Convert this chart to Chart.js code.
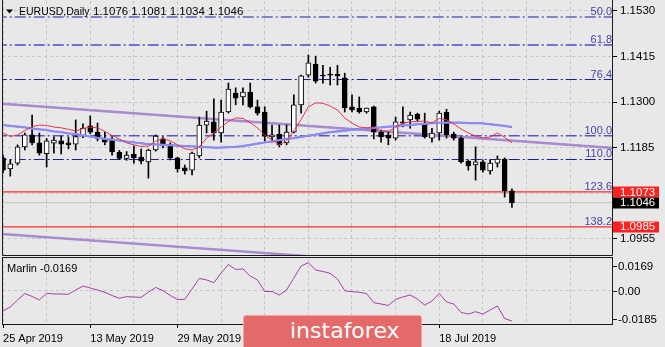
<!DOCTYPE html>
<html>
<head>
<meta charset="utf-8">
<script src="https://cdn.jsdelivr.net/npm/chart.js@4.4.1/dist/chart.umd.min.js"></script>
<style>
  body { margin: 0; background: #e8e8e8; }
  #wrap { position: relative; width: 665px; height: 347px; overflow: hidden; background: #e8e8e8; }
  #priceCanvas { position: absolute; left: 0; top: 0; }
  #oscCanvas { position: absolute; left: 0; top: 257px; }
  #logo {
    position: absolute; left: 243px; top: 315px; width: 179px; height: 36px;
    box-sizing: border-box; padding-left: 46px;
    background: #e46a6a; border: 1px solid #f1a4a4; border-radius: 3px;
    color: #fff; font: 22px "DejaVu Sans", sans-serif; line-height: 30px;
  }
</style>
</head>
<body>
<div id="wrap">
  <canvas id="priceCanvas" width="665" height="257"></canvas>
  <canvas id="oscCanvas" width="665" height="90"></canvas>
  <div id="logo">instaforex</div>
</div>
<script>
// EURUSD daily, bar 0 = 25 Apr 2019 ... bar 70 = 1 Aug 2019
const opens = [
  1.1159, 1.1131, 1.1146, 1.1187, 1.1217, 1.1197, 1.1170, 1.1196, 1.1202, 1.1197,
  1.1194, 1.1215, 1.1240, 1.1224, 1.1206, 1.1204, 1.1174, 1.1158, 1.1168, 1.1161,
  1.1149, 1.1179, 1.1207, 1.1192, 1.1159, 1.1134, 1.1128, 1.1164, 1.1242, 1.1250,
  1.1222, 1.1275, 1.1323, 1.1313, 1.1325, 1.1288, 1.1275, 1.1212, 1.1219, 1.1197,
  1.1224, 1.1293, 1.1368, 1.1396, 1.1368, 1.1371, 1.1371, 1.1361, 1.1288, 1.1285,
  1.1275, 1.1288, 1.1224, 1.1217, 1.1209, 1.1250, 1.1255, 1.1270, 1.1247, 1.1209,
  1.1222, 1.1275, 1.1219, 1.1209, 1.1151, 1.1141, 1.1149, 1.1126, 1.1146, 1.1156,
  1.1076
];
const highs = [
  1.1166, 1.1154, 1.1192, 1.1222, 1.1267, 1.1222, 1.1208, 1.1212, 1.1214, 1.1212,
  1.1255, 1.1245, 1.1265, 1.1247, 1.1224, 1.1212, 1.1178, 1.1175, 1.1189, 1.1181,
  1.1181, 1.1217, 1.1212, 1.1197, 1.1161, 1.1141, 1.1174, 1.1262, 1.1277, 1.1308,
  1.1305, 1.1348, 1.1336, 1.1336, 1.1348, 1.1305, 1.1288, 1.1242, 1.1242, 1.1242,
  1.1318, 1.1368, 1.1419, 1.1416, 1.1393, 1.1388, 1.1393, 1.1373, 1.1318, 1.1313,
  1.1285, 1.1290, 1.1229, 1.1224, 1.1262, 1.1288, 1.1275, 1.1272, 1.1272, 1.1234,
  1.1277, 1.1282, 1.1224, 1.1212, 1.1154, 1.1187, 1.1154, 1.1154, 1.1164, 1.1159,
  1.1081
];
const lows = [
  1.1121, 1.1113, 1.1141, 1.1179, 1.1192, 1.1166, 1.1136, 1.1171, 1.1169, 1.1182,
  1.1179, 1.1210, 1.1220, 1.1202, 1.1192, 1.1166, 1.1155, 1.1153, 1.1146, 1.1144,
  1.1108, 1.1176, 1.1184, 1.1154, 1.1123, 1.1118, 1.1116, 1.1159, 1.1222, 1.1204,
  1.1199, 1.1272, 1.1293, 1.1293, 1.1285, 1.1267, 1.1202, 1.1199, 1.1187, 1.1192,
  1.1222, 1.1272, 1.1363, 1.1348, 1.1348, 1.1343, 1.1343, 1.1275, 1.1275, 1.1272,
  1.1272, 1.1207, 1.1199, 1.1192, 1.1204, 1.1237, 1.1234, 1.1252, 1.1209, 1.1199,
  1.1204, 1.1209, 1.1204, 1.1146, 1.1128, 1.1103, 1.1123, 1.1118, 1.1136, 1.1060,
  1.1034
];
const closes = [
  1.1128, 1.1144, 1.1187, 1.1217, 1.1197, 1.1171, 1.1202, 1.1204, 1.1194, 1.1192,
  1.1213, 1.1234, 1.1224, 1.1208, 1.1199, 1.1174, 1.1158, 1.1166, 1.1159, 1.1151,
  1.1179, 1.1214, 1.1189, 1.1159, 1.1131, 1.1126, 1.1171, 1.1242, 1.1252, 1.1222,
  1.1275, 1.1333, 1.1310, 1.1325, 1.1288, 1.1272, 1.1214, 1.1217, 1.1192, 1.1224,
  1.1293, 1.1366, 1.1399, 1.1353, 1.1366, 1.1368, 1.1366, 1.1285, 1.1280, 1.1275,
  1.1285, 1.1224, 1.1212, 1.1209, 1.1250, 1.1247, 1.1267, 1.1257, 1.1212, 1.1222,
  1.1272, 1.1217, 1.1209, 1.1149, 1.1139, 1.1149, 1.1128, 1.1146, 1.1156, 1.1076,
  1.1046
];
// fast (red) and slow (blue) moving averages
const maFast = [
  1.1222, 1.1213, 1.1217, 1.1228, 1.1238, 1.1242, 1.1241, 1.1237, 1.1235, 1.1231,
  1.1227, 1.1233, 1.1237, 1.1235, 1.1226, 1.1216, 1.1207, 1.1197, 1.1192, 1.1188,
  1.1189, 1.1201, 1.1208, 1.1202, 1.1192, 1.1182, 1.1179, 1.1187, 1.1209, 1.1222,
  1.1237, 1.1251, 1.1260, 1.1259, 1.1248, 1.1235, 1.1216, 1.1204, 1.1192, 1.1202,
  1.1227, 1.1256, 1.1288, 1.1298, 1.1297, 1.1290, 1.1280, 1.1260, 1.1247, 1.1237,
  1.1235, 1.1235, 1.1227, 1.1226, 1.1236, 1.1247, 1.1250, 1.1251, 1.1252, 1.1247,
  1.1259, 1.1255, 1.1245, 1.1232, 1.1222, 1.1214, 1.1209, 1.1212, 1.1222, 1.1211,
  1.1197
];
const maSlow = [
  1.1242, 1.1240, 1.1238, 1.1236, 1.1233, 1.1231, 1.1229, 1.1226, 1.1224, 1.1221,
  1.1219, 1.1216, 1.1213, 1.1210, 1.1207, 1.1205, 1.1203, 1.1200, 1.1198, 1.1196,
  1.1194, 1.1193, 1.1192, 1.1191, 1.1190, 1.1189, 1.1188, 1.1187, 1.1186, 1.1185,
  1.1185, 1.1186, 1.1187, 1.1189, 1.1192, 1.1195, 1.1198, 1.1201, 1.1204, 1.1207,
  1.1209, 1.1212, 1.1215, 1.1218, 1.1221, 1.1224, 1.1226, 1.1228, 1.1230, 1.1232,
  1.1233, 1.1235, 1.1236, 1.1238, 1.1239, 1.1241, 1.1242, 1.1244, 1.1245, 1.1247,
  1.1248, 1.1248, 1.1248, 1.1248, 1.1247, 1.1247, 1.1246, 1.1244, 1.1242, 1.1240,
  1.1237
];
const marlin = [
  -0.0114, -0.0092, -0.0054, -0.0019, -0.0035, -0.0054, -0.0018, -0.0021, -0.0022, -0.0023,
   0.0000,  0.0022,  0.0011,  0.0000, -0.0012, -0.0030, -0.0045, -0.0036, -0.0038, -0.0040,
  -0.0011,  0.0014, -0.0003, -0.0030, -0.0051, -0.0051,  0.0006,  0.0063,  0.0055,  0.0040,
   0.0093,  0.0139,  0.0112,  0.0115,  0.0076,  0.0055, -0.0008, -0.0008, -0.0027,  0.0000,
   0.0065,  0.0131,  0.0149,  0.0109,  0.0101,  0.0091,  0.0060, -0.0004, -0.0009, -0.0012,
  -0.0019, -0.0069, -0.0076, -0.0084, -0.0051, -0.0038, -0.0027, -0.0049, -0.0082, -0.0060,
  -0.0018, -0.0065, -0.0076, -0.0122, -0.0131, -0.0118, -0.0131, -0.0109, -0.0087, -0.0155,
  -0.0169
];

const dateLabels = ['25 Apr 2019', '13 May 2019', '29 May 2019', '14 Jun 2019', '2 Jul 2019', '18 Jul 2019'];
const gridBars = [0, 6, 12, 18, 24, 30, 36, 42, 48, 54, 60, 66, 72, 78];
const priceTicks = [1.1530, 1.1415, 1.1300, 1.1185, 1.1070, 1.0955];
const fibLabels = ['50.0', '61.8', '76.4', '100.0', '110.0', '123.6', '138.2'];
const fibPrices = [1.1515, 1.1444, 1.1357, 1.1215, 1.1155, 1.1073, 1.0985];
const channelTop = [[-1, 1.1297], [84, 1.1184]];
const channelBottom = [[-1, 1.0968], [84, 1.0855]];
const marlinTicks = [0.0169, 0, -0.0185];
const symbol = 'EURUSD,Daily';
const bid = 1.1046;

const FONT = '"Liberation Sans", Arial, sans-serif';
const BG = '#e8e8e8';
const GRID = '#c4c4c4';
const X_MIN = -0.14, X_MAX = 83.9;

const pts = arr => arr.map((v, i) => ({ x: i, y: v }));
const span = (v) => [{ x: -1, y: v }, { x: 85, y: v }];
const seg = p => p.map(([x, y]) => ({ x, y }));

function hline(data, color, width, dash, order) {
  return { type: 'line', data, borderColor: color, borderWidth: width, borderDash: dash,
           pointRadius: 0, tension: 0, order };
}

// no extra room for edge labels, the frame is fixed
function noPad(s) {
  s.paddingTop = 0; s.paddingBottom = 0; s.paddingLeft = 0; s.paddingRight = 0;
}

// fib levels: navy dash-dot, 61.8 / 100 lighter, 123.6 / 138.2 solid red
const fibStyle = [
  ['#1c1cb0', 1.1, [11, 3, 2, 3]],
  ['#7272d6', 2, [11, 3, 2, 3]],
  ['#1c1cb0', 1.1, [11, 3, 2, 3]],
  ['#5858bc', 1.4, [11, 3, 2, 3]],
  ['#1c1cb0', 1.1, [11, 3, 2, 3]],
  ['#ff2b2b', 1.3, []],
  ['#ff2b2b', 1.3, []]
];

const datasets = [];
fibPrices.forEach((p, k) => {
  const [c, w, d] = fibStyle[k];
  datasets.push(hline(span(p), c, w, d, 6));
});
datasets.push(hline(span(bid), '#c2c2c2', 1, [], 6));
[channelTop, channelBottom].forEach(line => {
  datasets.push(hline(seg(line), '#a98bd0', 2.4, [], 5));
  datasets.push(hline(seg(line), '#5e1f98', 1.2, [], 5));
});
// wicks, then bodies
datasets.push({ type: 'bar', data: lows.map((l, i) => ({ x: i, y: [l, highs[i]] })),
  backgroundColor: '#000', borderWidth: 0, barThickness: 1, grouped: false, order: 4 });
datasets.push({ type: 'bar', data: opens.map((o, i) => ({ x: i, y: [o, closes[i]] })),
  backgroundColor: opens.map((o, i) => closes[i] >= o ? '#ffffff' : '#000000'),
  borderColor: '#000', borderWidth: 1, borderSkipped: false, barThickness: 5,
  grouped: false, order: 3 });
datasets.push(hline(pts(maSlow), '#8c8cf2', 2.2, [], 2));
datasets.push(hline(pts(maSlow), '#1a1aff', 1.3, [], 2));
datasets.push(hline(pts(maFast), '#e8344e', 1, [], 1));

function priceTag(ctx, a, y, value, fill) {
  const py = y.getPixelForValue(value);
  ctx.fillStyle = fill;
  ctx.fillRect(a.right, Math.round(py) - 5.5, 46, 11);
  ctx.fillStyle = '#fff';
  ctx.textAlign = 'left';
  ctx.textBaseline = 'middle';
  ctx.fillText(value.toFixed(4), a.right + 7, py + 0.5);
}

const pricePanel = {
  id: 'pricePanel',
  beforeDraw(chart) {
    const { ctx, width, height } = chart;
    ctx.save();
    ctx.fillStyle = BG;
    ctx.fillRect(0, 0, width, height);
    ctx.restore();
  },
  afterDraw(chart) {
    const { ctx, chartArea: a } = chart;
    const y = chart.scales.y;
    ctx.save();
    // panel frame
    ctx.strokeStyle = '#1c1c1c';
    ctx.lineWidth = 1;
    ctx.beginPath();
    ctx.moveTo(a.left + 0.5, 0);
    ctx.lineTo(a.left + 0.5, a.bottom - 0.5);
    ctx.lineTo(a.right - 0.5, a.bottom - 0.5);
    ctx.lineTo(a.right - 0.5, 0);
    ctx.stroke();

    // level captions
    ctx.font = '11px ' + FONT;
    ctx.fillStyle = '#4444a8';
    ctx.textAlign = 'right';
    ctx.textBaseline = 'alphabetic';
    fibLabels.forEach((t, k) => ctx.fillText(t, a.right - 1, y.getPixelForValue(fibPrices[k]) - 2));

    // axis price tags
    ctx.font = '11.5px ' + FONT;
    priceTag(ctx, a, y, fibPrices[5], '#ff2020');
    priceTag(ctx, a, y, bid, '#000');
    priceTag(ctx, a, y, fibPrices[6], '#ff2020');

    // title line
    ctx.fillStyle = '#000';
    ctx.beginPath();
    ctx.moveTo(6, 9.5); ctx.lineTo(13, 9.5); ctx.lineTo(9.5, 13.5);
    ctx.closePath();
    ctx.fill();
    ctx.textAlign = 'left';
    ctx.textBaseline = 'middle';
    ctx.font = '10.5px ' + FONT;
    ctx.fillText(symbol, 19, 12);
    ctx.font = '11.5px ' + FONT;
    const ohlc = [opens, highs, lows, closes].map(arr => arr[arr.length - 1].toFixed(4));
    ctx.fillText(ohlc.join(' '), 93, 12);
    ctx.restore();
  }
};

new Chart(document.getElementById('priceCanvas'), {
  type: 'line',
  data: { datasets },
  options: {
    responsive: false,
    animation: false,
    events: [],
    layout: { padding: { left: 2, top: 1, right: 0, bottom: 1 } },
    plugins: { legend: { display: false }, tooltip: { enabled: false } },
    scales: {
      x: {
        type: 'linear', min: X_MIN, max: X_MAX, offset: false,
        ticks: { display: false },
        grid: { color: GRID, drawTicks: false, offset: false },
        border: { display: false, dash: [3, 3] },
        afterBuildTicks: s => { s.ticks = gridBars.map(v => ({ value: v })); },
        afterFit: s => { s.height = 0; noPad(s); }
      },
      y: {
        type: 'linear', position: 'right',
        min: 1.091131, max: 1.155525,
        ticks: { color: '#000', padding: 3, font: { family: FONT, size: 11.5 },
                 callback: v => v.toFixed(4) },
        grid: { color: GRID, tickColor: '#000', tickLength: 4, tickBorderDash: [] },
        border: { display: false, dash: [3, 3] },
        afterBuildTicks: s => { s.ticks = priceTicks.map(v => ({ value: v })); },
        afterFit: s => { s.width = 52; noPad(s); }
      }
    }
  },
  plugins: [pricePanel]
});

const oscPanel = {
  id: 'oscPanel',
  beforeDraw(chart) {
    const { ctx, width, height } = chart;
    ctx.save();
    ctx.fillStyle = BG;
    ctx.fillRect(0, 0, width, height);
    ctx.restore();
  },
  afterDraw(chart) {
    const { ctx, chartArea: a } = chart;
    const y = chart.scales.y;
    ctx.save();
    ctx.strokeStyle = '#1c1c1c';
    ctx.lineWidth = 1;
    ctx.strokeRect(a.left + 0.5, 0.5, a.right - a.left - 1, a.bottom);

    ctx.font = '11px ' + FONT;
    ctx.fillStyle = '#000';
    ctx.textAlign = 'left';
    ctx.textBaseline = 'middle';
    ctx.fillText('Marlin ' + marlin[marlin.length - 1].toFixed(4), 7, 11.5);

    // scale captions sit just inside the window edges
    ctx.font = '11.5px ' + FONT;
    const shift = [7, 0.5, -5.5];
    marlinTicks.forEach((v, k) => {
      const py = Math.round(y.getPixelForValue(v) + shift[k]) + 0.5;
      ctx.beginPath();
      ctx.moveTo(a.right, py);
      ctx.lineTo(a.right + 4, py);
      ctx.stroke();
      ctx.fillText(v === 0 ? '0.00' : v.toFixed(4), a.right + 5, py);
    });
    ctx.restore();
  }
};

new Chart(document.getElementById('oscCanvas'), {
  type: 'line',
  data: { datasets: [hline(pts(marlin), '#a83fa8', 1, [], 1)] },
  options: {
    responsive: false,
    animation: false,
    events: [],
    layout: { padding: { left: 2, top: 2, right: 0, bottom: 0 } },
    plugins: { legend: { display: false }, tooltip: { enabled: false } },
    scales: {
      x: {
        type: 'linear', min: X_MIN, max: X_MAX, offset: false,
        ticks: {
          autoSkip: false, maxRotation: 0, minRotation: 0, align: 'start', padding: 4,
          color: '#000', font: { family: FONT, size: 11 },
          callback: v => (v % 12 === 0 && v / 12 < dateLabels.length) ? dateLabels[v / 12] : ''
        },
        grid: {
          color: GRID, tickLength: 4, tickBorderDash: [],
          tickColor: c => (c.tick && c.tick.value % 12 === 0 && c.tick.value / 12 < dateLabels.length) ? '#000' : 'rgba(0,0,0,0)'
        },
        border: { display: false, dash: [3, 3] },
        afterBuildTicks: s => { s.ticks = gridBars.map(v => ({ value: v })); },
        afterFit: s => { s.height = 23; noPad(s); }
      },
      y: {
        type: 'linear', position: 'right', min: -0.0185, max: 0.0169,
        ticks: { display: false },
        grid: { color: GRID, drawTicks: false },
        border: { display: false, dash: [3, 3] },
        afterBuildTicks: s => { s.ticks = [{ value: 0 }]; },
        afterFit: s => { s.width = 52; noPad(s); }
      }
    }
  },
  plugins: [oscPanel]
});
</script>
</body>
</html>
